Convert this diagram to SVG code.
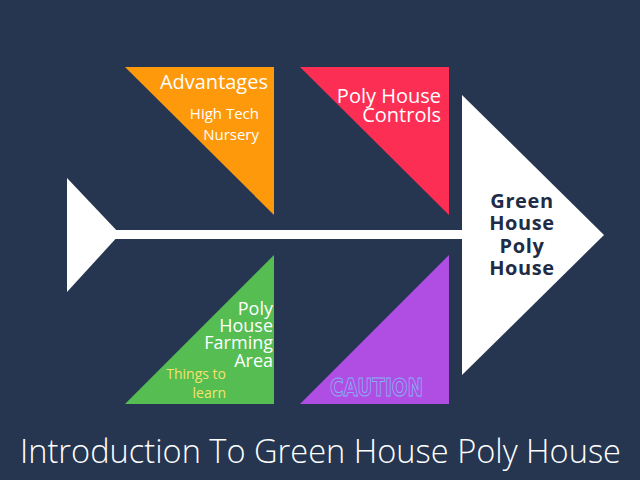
<svg xmlns="http://www.w3.org/2000/svg" width="640" height="480" viewBox="0 0 640 480">
<style>
.t{font-family:"Open Sans","Liberation Sans",sans-serif;fill:#ffffff}
.e{text-anchor:end}
.y{fill:#f4e36b}
.b{font-family:"Open Sans","Liberation Sans",sans-serif;font-weight:700;fill:#1e2c47;text-anchor:middle;letter-spacing:0.6px}
</style>
<rect width="640" height="480" fill="#263650"/>
<g id="connectors">
<rect x="112" y="230" width="352" height="9" fill="#ffffff"/>
</g>
<g id="tail"><polygon points="67,178 120,234 67,292" fill="#ffffff"/></g>
<g id="head">
<polygon points="462,95 604,235 462,375" fill="#ffffff"/>
<text class="b" font-size="20"><tspan x="522" y="208">Green</tspan><tspan x="522" y="230">House</tspan><tspan x="522" y="253">Poly</tspan><tspan x="522" y="275">House</tspan></text>
</g>
<g id="advantages">
<polygon points="125,67 274,67 274,215" fill="#fe990b"/>
<text class="t e" x="268" y="89" font-size="20">Advantages</text>
<text class="t e" font-size="15"><tspan x="259" y="119">High Tech</tspan><tspan x="259" y="140">Nursery</tspan></text>
</g>
<g id="controls">
<polygon points="300,67 449,67 449,215" fill="#fd2e54"/>
<text class="t e" font-size="20"><tspan x="441" y="103">Poly House</tspan><tspan x="441" y="122">Controls</tspan></text>
</g>
<g id="farming">
<polygon points="274,255 274,404 125,404" fill="#55bd52"/>
<text class="t e" font-size="18"><tspan x="273" y="315">Poly</tspan><tspan x="273" y="332">House</tspan><tspan x="273" y="349">Farming</tspan><tspan x="273" y="367">Area</tspan></text>
<text class="t e y" font-size="14"><tspan x="226" y="379">Things to</tspan><tspan x="226" y="398">learn</tspan></text>
</g>
<g id="caution">
<polygon points="449,255 449,404 300,404" fill="#b04ee4"/>
<text x="330" y="396" font-family="'DejaVu Sans','Liberation Sans',sans-serif" font-weight="700" font-size="24" textLength="93" lengthAdjust="spacingAndGlyphs" fill="#b04ee4" stroke="#86aef5" stroke-width="1">CAUTION</text>
</g>
<g id="title">
<text class="t" x="20" y="463" font-size="33" font-weight="300" textLength="601" lengthAdjust="spacingAndGlyphs">Introduction To Green House Poly House</text>
</g>
</svg>
